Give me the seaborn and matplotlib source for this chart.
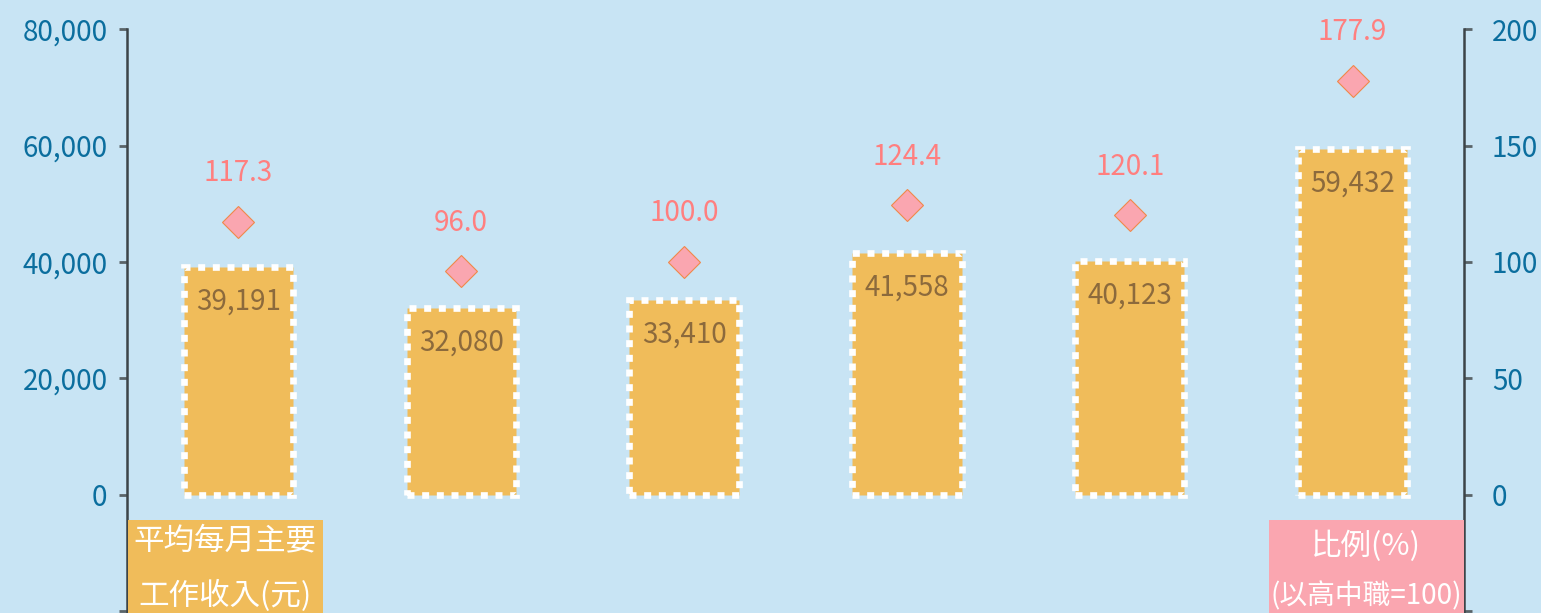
import matplotlib
matplotlib.use("Agg")
import matplotlib.pyplot as plt
import seaborn as sns
from matplotlib.patches import Rectangle

# data
categories = ["類別1", "類別2", "類別3", "類別4", "類別5", "類別6"]
income = [39191, 32080, 33410, 41558, 40123, 59432]
ratio = [117.3, 96.0, 100.0, 124.4, 120.1, 177.9]
left_ticks = [-20000, 0, 20000, 40000, 60000, 80000]
right_ticks = [-50, 0, 50, 100, 150, 200]

BG = "#C8E4F4"
BAR = "#F0BC5A"
PINK = "#FAA6B0"
TICK_C = "#0B6E9E"
BROWN = "#8C6A3C"
PINK_TXT = "#FF7F7F"
SPINE = "#3C4448"

sns.set_style("white")
plt.rcParams['font.family'] = ['Noto Sans CJK TC', 'DejaVu Sans']

fig = plt.figure(figsize=(15.41, 6.13), dpi=100, facecolor=BG)
ax = fig.add_axes([127 / 1541, 0, (1464 - 127) / 1541, 1])
ax.set_facecolor(BG)

sns.barplot(x=categories, y=income, ax=ax, color=BAR, width=0.49,
            edgecolor="white", linewidth=4.8, linestyle=(0, (1.05, 1.15)),
            saturation=1)
for i, v in enumerate(income):
    ax.annotate(f"{v:,}", (i, v), xytext=(0, -25), textcoords="offset points",
                ha="center", va="center", fontsize=20, color=BROWN)

ylo, yhi = -20300, 85000
ax.set_ylim(ylo, yhi)
ax.set_xlim(-0.5, 5.5)
ax.set_yticks(left_ticks)
ax.set_yticklabels([""] + [f"{t:,}" for t in left_ticks[1:]])
ax.set_xticks([])
ax.set_xlabel("")
ax.tick_params(axis="y", left=True, length=6, width=2, color="#5A6468",
               labelsize=20, labelcolor=TICK_C, pad=8)
for s in ["top", "bottom", "right"]:
    ax.spines[s].set_visible(False)
ax.spines["left"].set_color(SPINE)
ax.spines["left"].set_linewidth(1.8)
ax.spines["left"].set_bounds(ylo, 80000)

ax2 = ax.twinx()
sns.pointplot(x=categories, y=ratio, ax=ax2, markers="D", linestyles="none",
              color=PINK, markersize=16, markeredgecolor="#F0884A",
              markeredgewidth=0.8)
for i, v in enumerate(ratio):
    ax2.annotate(f"{v:.1f}", (i, v), xytext=(0, 35), textcoords="offset points",
                 ha="center", va="center", fontsize=20, color=PINK_TXT)
ax2.set_ylim(ylo / 400, yhi / 400)
ax2.set_xlim(-0.5, 5.5)
ax2.set_yticks(right_ticks)
ax2.set_yticklabels([""] + [str(t) for t in right_ticks[1:]])
ax2.set_xlabel("")
ax2.set_ylabel("")
ax2.tick_params(axis="y", right=True, length=6, width=2, color="#5A6468",
                labelsize=20, labelcolor=TICK_C, pad=14)
for s in ["top", "bottom", "left"]:
    ax2.spines[s].set_visible(False)
ax2.spines["right"].set_color(SPINE)
ax2.spines["right"].set_linewidth(1.8)
ax2.spines["right"].set_bounds(ylo / 400, 200)

# label boxes at the bottom
W, H = 1541, 613
fig.patches.append(Rectangle((128 / W, 0), 195 / W, 93 / H, transform=fig.transFigure,
                             facecolor=BAR, edgecolor="none", zorder=5))
fig.text(225 / W, 1 - 541 / H, "平均每月主要", ha="center", va="center",
         fontsize=22, color="white", zorder=6)
fig.text(225 / W, 1 - 596 / H, "工作收入(元)", ha="center", va="center",
         fontsize=22, color="white", zorder=6)
fig.patches.append(Rectangle((1269 / W, 0), 195 / W, 93 / H, transform=fig.transFigure,
                             facecolor=PINK, edgecolor="none", zorder=5))
fig.text(1366 / W, 1 - 546 / H, "比例(%)", ha="center", va="center",
         fontsize=22, color="white", zorder=6)
fig.text(1366 / W, 1 - 596 / H, "(以高中職=100)", ha="center", va="center",
         fontsize=20, color="white", zorder=6)

fig.savefig("out.png", dpi=100, facecolor=BG)
